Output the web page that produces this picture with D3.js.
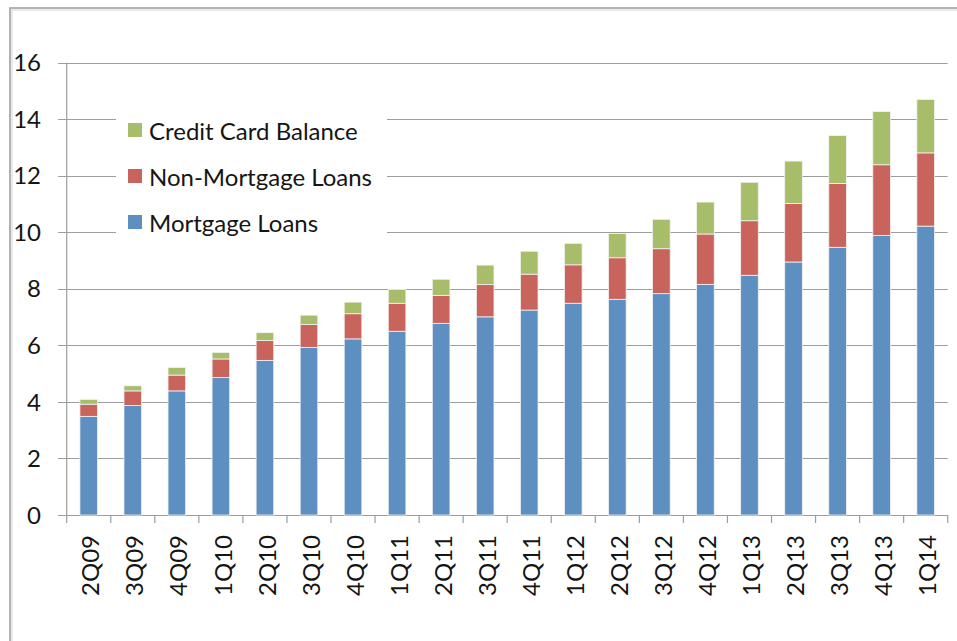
<!DOCTYPE html>
<html>
<head>
<meta charset="utf-8">
<script src="https://cdn.jsdelivr.net/npm/d3@7"></script>
<style>
  body { margin: 0; background: #fff; }
  svg text { font-family: Lato, "Open Sans", sans-serif; fill: #151515; }
</style>
</head>
<body>
<svg width="957" height="641"></svg>
<script>
var quarters = ['2Q09', '3Q09', '4Q09', '1Q10', '2Q10', '3Q10', '4Q10', '1Q11', '2Q11', '3Q11',
    '4Q11', '1Q12', '2Q12', '3Q12', '4Q12', '1Q13', '2Q13', '3Q13', '4Q13', '1Q14'];
var mortgage = [3.49, 3.87, 4.39, 4.86, 5.47, 5.93, 6.23, 6.50, 6.78, 7.01,
    7.25, 7.49, 7.63, 7.83, 8.16, 8.48, 8.95, 9.47, 9.89, 10.22];
var nonMortgage = [0.43, 0.52, 0.56, 0.66, 0.70, 0.81, 0.89, 0.99, 0.99, 1.14,
    1.27, 1.36, 1.47, 1.59, 1.78, 1.93, 2.07, 2.26, 2.50, 2.59];
var creditCard = [0.17, 0.18, 0.27, 0.23, 0.28, 0.33, 0.41, 0.49, 0.57, 0.69,
    0.81, 0.76, 0.86, 1.04, 1.13, 1.36, 1.50, 1.69, 1.88, 1.89];
var seriesNames = ['Mortgage Loans', 'Non-Mortgage Loans', 'Credit Card Balance'];
var seriesColors = ['#5e8fc1', '#c9645c', '#a8bd6a'];
var yTicks = [0, 2, 4, 6, 8, 10, 12, 14, 16];

var svg = d3.select('svg');

// outer frame
svg.append('rect').attr('x', 10).attr('y', 8).attr('width', 1000).attr('height', 700)
    .attr('fill', 'none').attr('stroke', '#9b9b9b').attr('stroke-width', 1.5);
svg.append('rect').attr('x', 12).attr('y', 10).attr('width', 1000).attr('height', 700)
    .attr('fill', 'none').attr('stroke', '#d6d6d6').attr('stroke-width', 1);

var x0 = 66.7, x1 = 947.7, yTop = 62.7, yBot = 515;
var pad = 0.6;

var x = d3.scaleBand().domain(quarters).range([x0, x1])
    .paddingInner(pad).paddingOuter(pad / 2);
var y = d3.scaleLinear().domain([0, 16]).range([yBot, yTop]);

var rows = quarters.map(function (q, i) {
    return { q: q, m: mortgage[i], n: nonMortgage[i], c: creditCard[i] };
});
var stack = d3.stack().keys(['m', 'n', 'c'])(rows);

// gridlines
svg.append('g').selectAll('line').data(yTicks).enter().append('line')
    .attr('x1', 58).attr('x2', x1)
    .attr('y1', function (d) { return Math.round(y(d)) + 0.5; })
    .attr('y2', function (d) { return Math.round(y(d)) + 0.5; })
    .attr('stroke', '#9d9d9d').attr('stroke-width', 1.2);

// y axis line
svg.append('line').attr('x1', x0).attr('x2', x0).attr('y1', y(16)).attr('y2', yBot)
    .attr('stroke', '#9d9d9d').attr('stroke-width', 1.2);

// x axis tick marks at band edges
var edges = quarters.map(function (q) { return x(q) - x.step() * pad / 2; }).concat([x1]);
svg.append('g').selectAll('line').data(edges).enter().append('line')
    .attr('x1', function (d) { return d; }).attr('x2', function (d) { return d; })
    .attr('y1', yBot).attr('y2', yBot + 8)
    .attr('stroke', '#9d9d9d').attr('stroke-width', 1.2);

// y labels
svg.append('g').selectAll('text').data(yTicks).enter().append('text')
    .attr('x', 41).attr('y', function (d) { return y(d); })
    .attr('dy', '0.36em').attr('text-anchor', 'end')
    .style('font-size', '24px')
    .text(function (d) { return d; });

// x labels
svg.append('g').selectAll('text').data(quarters).enter().append('text')
    .attr('transform', function (d) {
        return 'translate(' + (x(d) + x.bandwidth() / 2 + 2) + ',535) rotate(-90)';
    })
    .attr('dy', '0.36em').attr('text-anchor', 'end')
    .style('font-size', '24px')
    .text(function (d) { return d; });

// bars
svg.append('g').selectAll('g').data(stack).enter().append('g')
    .attr('fill', function (d, i) { return seriesColors[i]; })
    .selectAll('rect').data(function (d) { return d; }).enter().append('rect')
    .attr('x', function (d) { return x(d.data.q); })
    .attr('width', x.bandwidth())
    .attr('y', function (d) { return y(d[1]); })
    .attr('height', function (d) { return y(d[0]) - y(d[1]); })
    .attr('stroke', '#f2f2f2').attr('stroke-width', 0.8);

// legend
var legend = svg.append('g');
legend.append('rect').attr('x', 116).attr('y', 105).attr('width', 271).attr('height', 143)
    .attr('fill', '#fff');
var order = [2, 1, 0];
var item = legend.selectAll('g.item').data(order).enter().append('g')
    .attr('class', 'item')
    .attr('transform', function (d, i) { return 'translate(128,' + (123 + i * 46) + ')'; });
item.append('rect').attr('width', 14).attr('height', 14)
    .attr('fill', function (d) { return seriesColors[d]; });
item.append('text').attr('x', 21).attr('y', 8).attr('dy', '0.36em')
    .style('font-size', '24px')
    .text(function (d) { return seriesNames[d]; });
</script>
</body>
</html>
